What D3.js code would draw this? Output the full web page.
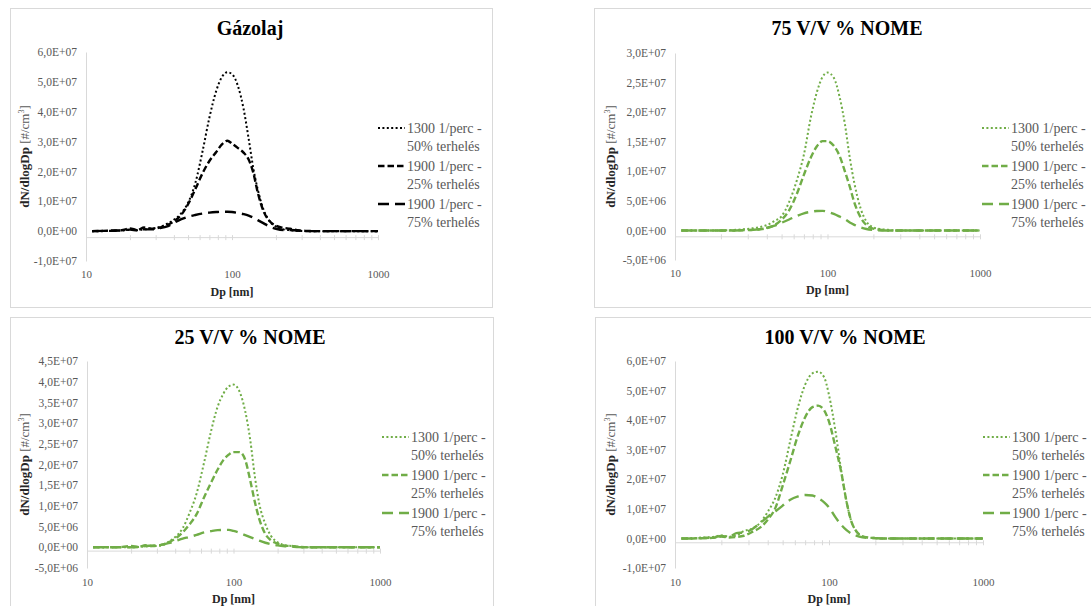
<!DOCTYPE html>
<html>
<head>
<meta charset="utf-8">
<script src="https://cdn.jsdelivr.net/npm/d3@7"></script>
<style>
  body { margin: 0; background: #fff; }
  svg { display: block; }
  text { font-family: "Liberation Serif", "Times New Roman", serif; }
</style>
</head>
<body>
<svg id="chart" width="1091" height="606"></svg>
<script>
// Particle diameters [nm]
var diameters = [11, 13, 15, 17.5, 20, 22.5, 25, 28, 32, 36, 40, 45, 50, 56, 63, 70, 78, 85, 93, 100,
                 110, 120, 130, 140, 150, 165, 180, 200, 225, 250, 280, 320, 400, 500, 650, 800, 1000];

// dN/dlogDp values, in 10^6 #/cm3
var gazolaj50 = [0, 0, 0.1, 0.2, 0.4, 0.3, 0.6, 0.8, 1.4, 2.5, 3.8, 6, 9.5, 16, 27, 38, 47, 51.5, 53.2, 52.6,
                 48.5, 41, 31, 21, 14, 7, 3.5, 1.5, 0.6, 0.3, 0.1, 0, 0, 0, 0, 0, 0];
var gazolaj25 = [0, 0.1, 0.2, 0.3, 0.9, 0.4, 1.2, 0.8, 1.2, 2, 3.3, 5.5, 9, 14, 19.5, 23.5, 26.5, 29, 30.3, 29.3,
                 27.8, 26.3, 24, 19.5, 13, 6.5, 3.5, 1.8, 1.1, 0.8, 0.3, 0.1, 0, 0, 0, 0, 0];
var gazolaj75 = [0, 0.1, 0.1, 0.3, 0.5, 0.3, 0.6, 0.6, 1.0, 1.6, 2.8, 4.0, 4.8, 5.4, 5.9, 6.2, 6.4, 6.5, 6.5, 6.4,
                 6.1, 5.7, 5.2, 4.5, 3.7, 2.6, 1.6, 0.8, 0.4, 0.4, 0.2, 0, 0, 0, 0, 0, 0];

var nome75_50 = [0, 0, 0, 0, 0, 0.05, 0.1, 0.2, 0.35, 0.56, 0.9, 1.6, 2.4, 4.8, 8.5, 12.8, 19.3, 23.3, 26, 26.7,
                 25.8, 22.6, 18, 12.3, 8, 3.7, 1.5, 0.5, 0.2, 0.1, 0, 0, 0, 0, 0, 0, 0];
var nome75_25 = [0, 0, 0, 0, 0, 0, 0, 0.05, 0.1, 0.2, 0.4, 0.9, 1.8, 3.4, 6.2, 9.4, 12.4, 14.2, 15.1, 15.1,
                 14.3, 12.6, 10, 7.4, 4.7, 2.2, 0.9, 0.3, 0.1, 0, 0, 0, 0, 0, 0, 0, 0];
var nome75_75 = [0, 0, 0, 0, 0, 0, 0, 0.03, 0.08, 0.2, 0.45, 0.8, 1.3, 1.85, 2.45, 2.9, 3.15, 3.28, 3.3, 3.15,
                 2.8, 2.35, 1.9, 1.35, 0.95, 0.5, 0.25, 0.1, 0, 0, 0, 0, 0, 0, 0, 0, 0];

var nome25_50 = [0, 0, 0, 0, 0, 0.1, 0.2, 0.3, 0.4, 1.3, 2.5, 4.6, 8.2, 13, 20.5, 27.8, 34, 37, 38.9, 39.3,
                 37.6, 33, 26, 17, 10.5, 5.6, 2.8, 1.2, 0.5, 0.3, 0.1, 0, 0, 0, 0, 0, 0];
var nome25_25 = [0, 0, 0, 0.1, 0.3, 0.1, 0.5, 0.3, 0.6, 1.2, 2.1, 3.6, 5.5, 8, 12.1, 15.5, 18.8, 21, 22.4, 23,
                 23, 21.2, 16.2, 10.9, 6.8, 3.2, 1.7, 0.9, 0.4, 0.3, 0.1, 0, 0, 0, 0, 0, 0];
var nome25_75 = [0, 0, 0, 0, 0, 0.1, 0.3, 0.4, 0.6, 1.0, 1.5, 2.1, 2.5, 3.0, 3.6, 3.9, 4.15, 4.2, 4.2, 3.95,
                 3.5, 2.95, 2.45, 2.0, 1.6, 1.1, 0.75, 0.45, 0.25, 0.15, 0.05, 0, 0, 0, 0, 0, 0];

var nome100_50 = [0, 0.1, 0.3, 0.5, 1.0, 0.6, 1.0, 2.5, 3.4, 5.5, 9, 14, 21.5, 33, 44.5, 52, 55.8, 56.4, 54.5, 48.5,
                  36.5, 23, 12.4, 5.6, 2.5, 0.7, 0.3, 0.1, 0, 0, 0, 0, 0, 0, 0, 0, 0];
var nome100_25 = [0, 0, 0.1, 0.2, 0.6, 0.3, 0.5, 0.9, 2.3, 3.8, 6.3, 10.5, 17.8, 26.1, 35, 41, 44.4, 44.9, 43.3, 39.5,
                  31, 22.5, 12.4, 5.6, 2.5, 0.7, 0.3, 0.1, 0, 0, 0, 0, 0, 0, 0, 0, 0];
var nome100_75 = [0, 0, 0.1, 0.3, 0.8, 0.5, 1.8, 2.0, 3.3, 5.3, 7.3, 9.2, 11.1, 13.1, 14.2, 14.7, 14.5, 13.6, 12.2, 10.5,
                  7.2, 4.6, 2.8, 1.6, 0.95, 0.4, 0.2, 0.1, 0, 0, 0, 0, 0, 0, 0, 0, 0];

// Legend labels (two lines each) and x tick labels
var seriesNames = [["1300 1/perc -", "50% terhelés"], ["1900 1/perc -", "25% terhelés"], ["1900 1/perc -", "75% terhelés"]];
var xTickLabels = [10, 100, 1000];
var xMinorTicks = [20, 30, 40, 50, 60, 70, 80, 90, 200, 300, 400, 500, 600, 700, 800, 900];

// Line styles for the three series
var dashes = ["2,2.4", "6.5,3", "11,6"];
var widths = [2, 2.4, 2.4];

var panels = [
  { title: "Gázolaj", series: [gazolaj50, gazolaj25, gazolaj75], color: "#000000",
    yDomain: [-1e7, 6e7], yStep: 1e7, crossAt: -2e6,
    frame: [10, 8, 482, 299], plot: [86, 378, 52, 261], titleX: 250, titleY: 28,
    legendX: 378, legendY: 128, xLabelY: 274, xTitleY: 292, yTitleX: 24 },
  { title: "75 V/V % NOME", series: [nome75_50, nome75_25, nome75_75], color: "#70ad47",
    yDomain: [-5e6, 3e7], yStep: 5e6, crossAt: -1e6,
    frame: [594, 8, 520, 299], plot: [675, 980, 53, 260], titleX: 847, titleY: 28,
    legendX: 982, legendY: 128, xLabelY: 273, xTitleY: 290, yTitleX: 610 },
  { title: "25 V/V % NOME", series: [nome25_50, nome25_25, nome25_75], color: "#70ad47",
    yDomain: [-5e6, 4.5e7], yStep: 5e6, crossAt: -8e5,
    frame: [10, 317, 483, 300], plot: [87, 380, 361, 568], titleX: 250, titleY: 337,
    legendX: 382, legendY: 437, xLabelY: 582, xTitleY: 599, yTitleX: 24 },
  { title: "100 V/V % NOME", series: [nome100_50, nome100_25, nome100_75], color: "#70ad47",
    yDomain: [-1e7, 6e7], yStep: 1e7, crossAt: -1.3e6,
    frame: [595, 317, 520, 300], plot: [675, 983, 361, 568], titleX: 845, titleY: 337,
    legendX: 983, legendY: 437, xLabelY: 582, xTitleY: 599, yTitleX: 610 }
];

var svg = d3.select("#chart");

// Excel-like scientific format: 6,0E+07
function excelExp(v) {
  if (v === 0) return "0,0E+00";
  var e = Math.floor(Math.log10(Math.abs(v)) + 1e-9);
  var m = v / Math.pow(10, e);
  return m.toFixed(1).replace(".", ",") + "E" + (e < 0 ? "-" : "+") + String(Math.abs(e)).padStart(2, "0");
}

panels.forEach(function (p) {
  var g = svg.append("g");

  g.append("rect")
    .attr("x", p.frame[0] + 0.5).attr("y", p.frame[1] + 0.5)
    .attr("width", p.frame[2]).attr("height", p.frame[3])
    .attr("fill", "#fff").attr("stroke", "#d9d9d9");

  var x = d3.scaleLog().domain([10, 1000]).range([p.plot[0], p.plot[1]]);
  var y = d3.scaleLinear().domain(p.yDomain).range([p.plot[3], p.plot[2]]);

  // title
  g.append("text")
    .attr("x", p.titleX).attr("y", p.titleY).attr("dy", "0.35em")
    .attr("text-anchor", "middle")
    .attr("font-size", 20).attr("font-weight", "bold")
    .text(p.title);

  // y axis
  var yTicks = d3.range(p.yDomain[0], p.yDomain[1] + p.yStep / 2, p.yStep);
  var yAxis = g.append("g")
    .attr("transform", "translate(" + p.plot[0] + ",0)")
    .call(d3.axisLeft(y).tickValues(yTicks).tickSize(0).tickPadding(9).tickFormat(excelExp));
  yAxis.select(".domain").attr("stroke", "#d9d9d9");
  yAxis.selectAll("text")
    .attr("font-family", "Liberation Serif").attr("font-size", 11.5).attr("fill", "#595959");

  // x axis line with minor ticks, crossing near zero
  var xAxis = g.append("g")
    .attr("transform", "translate(0," + y(p.crossAt) + ")")
    .call(d3.axisBottom(x).tickValues(xMinorTicks.concat(xTickLabels)).tickSize(3).tickSizeOuter(0).tickFormat(""));
  xAxis.select(".domain").attr("stroke", "#d9d9d9");
  xAxis.selectAll(".tick line").attr("stroke", "#d9d9d9").attr("y1", -2);

  // x tick labels at the bottom
  var xLab = g.append("g")
    .attr("transform", "translate(0," + p.xLabelY + ")")
    .call(d3.axisBottom(x).tickValues(xTickLabels).tickSize(0).tickPadding(0).tickFormat(d3.format("d")));
  xLab.select(".domain").remove();
  xLab.selectAll("text")
    .attr("font-family", "Liberation Serif").attr("font-size", 11).attr("fill", "#595959")
    .attr("dy", "0.35em").attr("y", 0);

  // axis titles
  g.append("text")
    .attr("x", (p.plot[0] + p.plot[1]) / 2).attr("y", p.xTitleY).attr("dy", "0.35em")
    .attr("text-anchor", "middle").attr("font-size", 12).attr("font-weight", "bold")
    .attr("fill", "#262626")
    .text("Dp [nm]");

  var yt = g.append("text")
    .attr("transform", "translate(" + p.yTitleX + "," + (p.plot[2] + p.plot[3]) / 2 + ") rotate(-90)")
    .attr("text-anchor", "middle").attr("dy", "0.35em").attr("font-size", 13);
  yt.append("tspan").attr("font-weight", "bold").attr("fill", "#262626").text("dN/dlogDp ");
  yt.append("tspan").attr("fill", "#595959").text("[#/cm");
  yt.append("tspan").attr("fill", "#595959").attr("font-size", 8).attr("dy", -5).text("3");
  yt.append("tspan").attr("fill", "#595959").attr("dy", 5).text("]");

  // curves
  var line = d3.line()
    .x(function (d) { return x(d[0]); })
    .y(function (d) { return y(d[1] * 1e6); })
    .curve(d3.curveMonotoneX);

  p.series.forEach(function (vals, i) {
    var pts = diameters.map(function (d, j) { return [d, vals[j]]; });
    g.append("path")
      .attr("d", line(pts))
      .attr("fill", "none")
      .attr("stroke", p.color)
      .attr("stroke-width", widths[i])
      .attr("stroke-dasharray", dashes[i]);
  });

  // legend
  seriesNames.forEach(function (name, i) {
    var ly = p.legendY + i * 38;
    g.append("line")
      .attr("x1", p.legendX).attr("x2", p.legendX + 27)
      .attr("y1", ly).attr("y2", ly)
      .attr("stroke", p.color).attr("stroke-width", widths[i])
      .attr("stroke-dasharray", dashes[i]);
    var t = g.append("text")
      .attr("x", p.legendX + 29).attr("y", ly).attr("dy", "0.35em")
      .attr("font-size", 14).attr("fill", "#595959");
    t.append("tspan").text(name[0]);
    t.append("tspan").attr("x", p.legendX + 29).attr("dy", 18).text(name[1]);
  });
});
</script>
</body>
</html>
